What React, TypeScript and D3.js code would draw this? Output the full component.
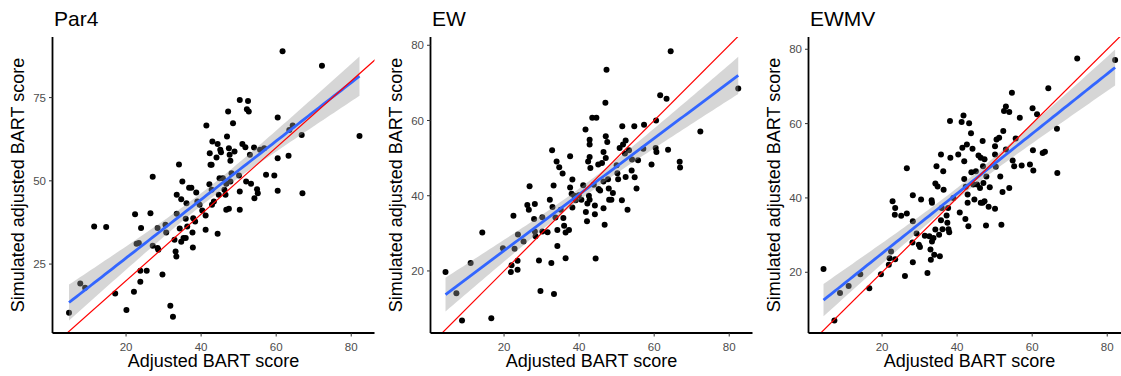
import React from 'react';
import * as d3 from 'd3';

const par4Data: [number, number][] = [
  [4.8, 10.4], [7.8, 19.2], [9.1, 17.9], [11.5, 36.3], [14.7, 36.1], [17.1, 16.2], [20.1, 11.2],
  [22.1, 16.7], [22.4, 40.0], [22.8, 31.1], [23.4, 31.3], [24.0, 35.8], [23.8, 23.0], [23.8, 19.7],
  [25.5, 23.0], [26.5, 40.3], [27.1, 51.2], [27.1, 30.5], [28.4, 35.8], [28.4, 29.8], [28.6, 29.3],
  [29.7, 21.9], [30.5, 36.8], [30.7, 34.5], [31.8, 12.5], [32.5, 9.2], [32.9, 32.3], [33.2, 28.8],
  [33.4, 27.3], [33.5, 40.1], [33.5, 45.8], [34.1, 54.9], [34.3, 35.7], [34.7, 31.7], [34.7, 44.5],
  [35.0, 49.8], [35.3, 32.8], [35.9, 32.8], [36.1, 43.3], [35.9, 38.6], [36.3, 36.3], [36.8, 47.9],
  [37.4, 47.9], [37.7, 34.5], [37.8, 30.0], [37.9, 38.8], [38.4, 37.8], [38.7, 46.5], [39.0, 43.8],
  [39.6, 42.8], [40.3, 41.1], [41.2, 39.6], [41.2, 35.3], [41.4, 66.6], [42.2, 49.0], [42.3, 58.3],
  [42.5, 54.8], [42.8, 54.8], [42.8, 47.3], [43.0, 61.8], [43.4, 43.8], [42.9, 42.8], [44.1, 57.0],
  [44.4, 61.1], [44.4, 34.1], [44.7, 45.8], [44.9, 50.8], [45.1, 59.3], [45.3, 58.6], [45.8, 50.8],
  [46.2, 47.3], [46.5, 45.8], [46.7, 49.1], [46.9, 63.3], [47.2, 70.8], [46.7, 41.3], [47.4, 41.6],
  [47.4, 59.8], [47.6, 57.8], [47.8, 56.0], [47.8, 49.8], [48.1, 52.3], [48.5, 67.3], [48.9, 58.8],
  [50.1, 51.6], [50.3, 74.3], [50.3, 46.8], [50.3, 41.3], [51.0, 61.1], [51.8, 60.1], [52.0, 49.8],
  [52.2, 71.5], [52.5, 74.0], [52.7, 70.8], [53.0, 57.8], [53.3, 49.1], [54.1, 60.0], [54.2, 44.8],
  [54.9, 47.5], [55.1, 46.3], [55.7, 59.3], [56.8, 59.8], [57.3, 51.8], [59.5, 51.6], [60.4, 69.0],
  [60.4, 56.8], [60.4, 47.0], [61.7, 88.9], [63.3, 57.5], [63.5, 65.3], [64.4, 66.6], [66.8, 63.8],
  [67.0, 46.3], [72.2, 84.6], [82.2, 63.5],
];

const ewData: [number, number][] = [
  [4.4, 19.7], [7.3, 14.1], [8.8, 6.8], [11.1, 22.1], [14.2, 30.2], [16.6, 7.4], [19.7, 26.0],
  [21.8, 19.7], [22.0, 21.5], [22.5, 34.7], [22.8, 25.9], [23.6, 22.7], [23.6, 20.3], [23.7, 29.7],
  [25.2, 27.8], [26.2, 37.5], [26.6, 36.3], [26.8, 42.5], [28.0, 33.8], [28.2, 37.8], [28.2, 30.5],
  [28.4, 29.2], [29.3, 22.8], [29.7, 14.7], [30.2, 34.3], [30.2, 30.5], [31.6, 30.3], [32.2, 38.9],
  [32.6, 22.1], [32.8, 52.1], [32.9, 37.0], [33.2, 42.7], [33.3, 13.9], [33.7, 34.2], [34.0, 49.1],
  [34.2, 30.9], [34.2, 26.6], [34.7, 47.6], [35.1, 36.3], [35.6, 45.9], [35.8, 34.1], [36.0, 32.0],
  [36.4, 30.2], [36.4, 23.4], [37.3, 30.9], [37.6, 50.5], [37.6, 42.2], [38.0, 40.5], [38.2, 44.3],
  [38.2, 36.9], [38.7, 40.0], [39.1, 38.8], [39.9, 40.1], [40.6, 38.9], [41.1, 42.8], [41.7, 57.6],
  [41.8, 35.7], [42.1, 33.2], [42.2, 37.9], [42.4, 49.1], [42.6, 40.0], [42.8, 54.9], [42.8, 53.6],
  [42.8, 50.3], [43.0, 47.4], [42.8, 38.9], [43.5, 60.7], [43.9, 42.9], [44.2, 37.4], [44.2, 35.1],
  [44.4, 23.3], [44.6, 60.7], [45.1, 48.3], [45.2, 41.8], [45.6, 41.4], [46.1, 48.7], [46.5, 43.8],
  [46.5, 36.7], [46.5, 51.6], [46.8, 32.3], [47.0, 64.7], [47.1, 55.8], [47.1, 50.0], [47.3, 73.5],
  [47.5, 54.3], [47.7, 44.4], [47.9, 41.9], [48.0, 38.9], [48.6, 38.9], [49.0, 40.7], [50.0, 48.1],
  [50.2, 46.0], [50.4, 44.4], [50.8, 52.7], [51.4, 38.8], [51.5, 58.5], [51.7, 53.6], [52.2, 51.2],
  [52.4, 54.7], [52.4, 45.0], [52.9, 36.3], [53.3, 52.1], [54.0, 46.7], [54.1, 49.6], [54.7, 58.5],
  [54.8, 44.9], [55.3, 41.9], [55.7, 49.4], [57.1, 52.5], [57.3, 58.9], [59.3, 48.3], [60.4, 52.7],
  [60.5, 60.0], [60.6, 51.6], [61.6, 66.7], [63.3, 65.8], [63.7, 52.2], [64.4, 78.4], [66.8, 49.0],
  [66.9, 47.5], [72.3, 57.1], [82.4, 68.5],
];

const ewmvData: [number, number][] = [
  [4.4, 20.9], [7.3, 7.0], [8.8, 14.4], [11.1, 16.3], [14.2, 19.5], [16.6, 15.7], [19.7, 19.5],
  [21.8, 22.0], [22.0, 23.8], [22.4, 25.6], [22.8, 39.1], [23.4, 35.5], [23.5, 37.3], [23.5, 23.5],
  [25.1, 35.2], [26.6, 35.8], [26.6, 48.0], [26.1, 19.0], [28.1, 28.0], [28.2, 33.7], [28.2, 40.7],
  [28.2, 22.7], [29.2, 30.4], [29.8, 27.4], [30.1, 26.8], [30.4, 39.6], [31.4, 29.8], [32.1, 19.8],
  [32.6, 29.7], [32.9, 26.1], [33.0, 23.4], [33.2, 39.4], [33.3, 38.7], [33.3, 28.3], [33.7, 29.2],
  [33.9, 24.7], [34.2, 43.9], [34.2, 31.5], [34.5, 48.5], [34.8, 43.1], [35.2, 30.1], [35.4, 24.3],
  [35.7, 51.7], [35.7, 34.0], [35.9, 37.3], [36.1, 31.6], [36.3, 47.2], [36.4, 42.2], [37.2, 35.3],
  [37.4, 33.3], [37.6, 37.3], [37.7, 31.6], [37.9, 30.8], [38.1, 60.7], [38.2, 50.8], [39.0, 40.0],
  [40.3, 51.7], [40.7, 36.1], [41.2, 60.4], [41.4, 53.5], [41.7, 62.2], [41.9, 45.1], [41.9, 49.9],
  [42.2, 34.3], [42.3, 43.0], [42.6, 54.4], [42.8, 38.7], [42.8, 40.9], [43.0, 32.4], [43.2, 60.1],
  [43.7, 57.4], [43.8, 46.9], [44.1, 53.2], [44.3, 43.6], [44.6, 39.6], [45.0, 47.2], [45.3, 43.6],
  [45.7, 51.4], [46.1, 42.7], [46.3, 50.8], [46.3, 38.7], [46.8, 55.3], [46.8, 38.7], [46.9, 48.5],
  [47.0, 44.0], [47.3, 50.4], [47.3, 39.1], [47.7, 32.6], [47.8, 45.8], [48.4, 37.6], [48.7, 42.9],
  [50.1, 37.1], [50.1, 53.9], [50.1, 51.7], [50.3, 48.4], [50.5, 55.7], [51.2, 56.2], [51.5, 45.8],
  [51.8, 32.8], [52.1, 41.6], [52.3, 58.0], [52.5, 63.4], [53.0, 64.6], [53.0, 53.0], [53.9, 42.7],
  [53.9, 63.1], [54.6, 68.3], [54.8, 50.1], [55.2, 48.5], [55.6, 56.0], [56.7, 61.6], [57.2, 48.7],
  [59.4, 49.0], [60.1, 64.1], [60.2, 52.8], [60.3, 47.4], [61.3, 62.5], [62.8, 52.1], [63.4, 52.4],
  [64.3, 69.5], [66.6, 58.6], [66.7, 46.7], [72.0, 77.5], [82.1, 77.1],
];

const panelTitles = ['Par4', 'EW', 'EWMV'];
const panelData = [par4Data, ewData, ewmvData];
const xTicks = [20, 40, 60, 80];
const yTickSets = [[25, 50, 75], [20, 40, 60, 80], [20, 40, 60, 80]];
const xDomain: [number, number] = [0.4, 86.2];
const yDomains: [number, number][] = [[4.3, 93.2], [3.5, 82.2], [3.66, 83.3]];

const W = 1121;
const H = 376;
const panelLefts = [52.5, 430.5, 808.5];
const panelWidth = 322;
const top = 37;
const bottom = 333;
const font = '"Liberation Sans", Arial, Helvetica, sans-serif';

// ordinary least squares with a 95% confidence band, like geom_smooth(method = "lm")
const fit = (data: [number, number][]) => {
  const n = data.length;
  const mx = d3.mean(data, (d) => d[0]) || 0;
  const my = d3.mean(data, (d) => d[1]) || 0;
  const sxx = d3.sum(data, (d) => (d[0] - mx) ** 2);
  const sxy = d3.sum(data, (d) => (d[0] - mx) * (d[1] - my));
  const b = sxy / sxx;
  const a = my - b * mx;
  const rss = d3.sum(data, (d) => (d[1] - a - b * d[0]) ** 2);
  const s2 = rss / (n - 2);
  const se = (x: number) => Math.sqrt(s2 * (1 / n + (x - mx) ** 2 / sxx));
  return { a, b, se };
};

const Panel = ({ i }: { i: number }) => {
  const data = panelData[i];
  const left = panelLefts[i];
  const x = d3.scaleLinear().domain(xDomain).range([left, left + panelWidth]);
  const y = d3.scaleLinear().domain(yDomains[i]).range([bottom, top]);
  const { a, b, se } = fit(data);
  const [x0, x1] = d3.extent(data, (d) => d[0]) as [number, number];
  const grid = d3.range(81).map((k) => x0 + ((x1 - x0) * k) / 80);
  const t = 1.98;
  const band = d3
    .area<number>()
    .x((v) => x(v))
    .y0((v) => y(a + b * v - t * se(v)))
    .y1((v) => y(a + b * v + t * se(v)))(grid);
  const fitLine = d3
    .line<number>()
    .x((v) => x(v))
    .y((v) => y(a + b * v))(grid);
  const lo = Math.min(xDomain[0], yDomains[i][0]);
  const hi = Math.max(xDomain[1], yDomains[i][1]);
  const clipId = `clip${i}`;
  const midX = left + panelWidth / 2;
  const midY = (top + bottom) / 2;
  return (
    <g>
      <clipPath id={clipId}>
        <rect x={left} y={top} width={panelWidth} height={bottom - top} />
      </clipPath>
      <g clipPath={`url(#${clipId})`}>
        {data.map((d, k) => (
          <circle key={k} cx={x(d[0])} cy={y(d[1])} r={3} fill="black" />
        ))}
        <path d={band || ''} fill="#999999" fillOpacity={0.4} />
        <path d={fitLine || ''} fill="none" stroke="#3366FF" strokeWidth={2.8} />
        <line x1={x(lo)} y1={y(lo)} x2={x(hi)} y2={y(hi)} stroke="red" strokeWidth={1.2} />
      </g>
      <line x1={left} x2={left + panelWidth} y1={bottom} y2={bottom} stroke="black" strokeWidth={1.8} />
      <line x1={left} x2={left} y1={top} y2={bottom} stroke="black" strokeWidth={1.8} />
      {xTicks.map((v) => (
        <g key={v}>
          <line x1={x(v)} x2={x(v)} y1={bottom} y2={bottom + 3.5} stroke="#333333" strokeWidth={1} />
          <text x={x(v)} y={350.5} textAnchor="middle" fontSize={11.5} fill="#4D4D4D" fontFamily={font}>
            {v}
          </text>
        </g>
      ))}
      {yTickSets[i].map((v) => (
        <g key={v}>
          <line x1={left - 3.5} x2={left} y1={y(v)} y2={y(v)} stroke="#333333" strokeWidth={1} />
          <text
            x={left - 6.5}
            y={y(v)}
            dy="0.36em"
            textAnchor="end"
            fontSize={11.5}
            fill="#4D4D4D"
            fontFamily={font}
          >
            {v}
          </text>
        </g>
      ))}
      <text x={left + 1.5} y={26} fontSize={21} fontFamily={font} fill="black">
        {panelTitles[i]}
      </text>
      <text x={midX} y={366.5} textAnchor="middle" fontSize={18} fontFamily={font} fill="black">
        Adjusted BART score
      </text>
      <text
        transform={`translate(${left - 35},${midY}) rotate(-90)`}
        dy="0.36em"
        textAnchor="middle"
        fontSize={18}
        fontFamily={font}
        fill="black"
      >
        Simulated adjusted BART score
      </text>
    </g>
  );
};

const App = () => (
  <div style={{ position: 'absolute', left: 0, top: 0, width: W, height: H, background: 'white' }}>
    <svg width={W} height={H} viewBox={`0 0 ${W} ${H}`} style={{ display: 'block' }}>
      <rect width={W} height={H} fill="white" />
      {panelTitles.map((_, i) => (
        <Panel key={i} i={i} />
      ))}
    </svg>
  </div>
);

export default App;
